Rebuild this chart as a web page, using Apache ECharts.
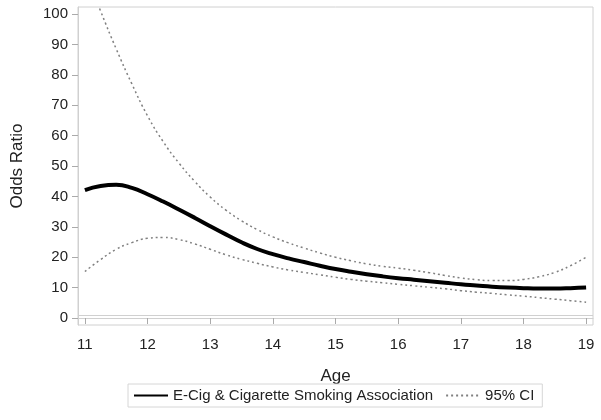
<!DOCTYPE html>
<html>
<head>
<meta charset="utf-8">
<script src="https://cdn.jsdelivr.net/npm/echarts@6/dist/echarts.min.js"></script>
<style>html,body{margin:0;padding:0;background:#fff}#c{width:601px;height:420px}</style>
</head>
<body>
<div id="c"></div>
<script>
var ages = [11,11.25,11.5,11.75,12,12.25,12.5,12.75,13,13.25,13.5,13.75,14,14.25,14.5,14.75,15,15.25,15.5,15.75,16,16.25,16.5,16.75,17,17.25,17.5,17.75,18,18.25,18.5,18.75,19];
var oddsRatio = [42.1,43.4,43.8,42.8,40.7,38.3,35.7,33,30.2,27.5,24.9,22.7,21,19.6,18.4,17.2,16.1,15.2,14.4,13.7,13.1,12.6,12.1,11.6,11.1,10.7,10.3,10.0,9.8,9.7,9.7,9.8,10.0];
var upperCI = [114,101,88.5,77,66.5,58,51,45,39.8,35.5,32,29.1,26.7,24.7,23,21.4,20,18.8,17.8,17,16.4,15.7,14.9,14.0,13.2,12.6,12.3,12.3,12.7,13.6,15,17.2,20];
var lowerCI = [15.3,19.2,22.6,24.8,26.2,26.5,25.8,24.4,22.6,20.8,19.3,18,16.8,15.8,15,14.2,13.4,12.7,12.1,11.6,11.1,10.6,10.1,9.6,9.0,8.5,8.1,7.6,7.2,6.7,6.2,5.7,5.2];
var xTicks = [11,12,13,14,15,16,17,18,19];
var yTicks = [0,10,20,30,40,50,60,70,80,90,100];
var refValue = 1;

function pairs(xs, ys){ return xs.map(function(x,i){ return [x, ys[i]]; }); }

var font = 'Liberation Sans';
var chart = echarts.init(document.getElementById('c'), null, {renderer:'canvas'});
chart.setOption({
  animation: false,
  textStyle: {fontFamily: font},
  grid: {left: 78, right: 8, top: 7, bottom: 95, show: true, borderColor: '#d0d0d0', borderWidth: 1, containLabel: false},
  legend: {
    left: 128, top: 384,
    data: ['E-Cig & Cigarette Smoking Association', '95% CI'],
    itemWidth: 34, itemHeight: 14, itemGap: 12,
    itemStyle: {opacity: 0},
    borderColor: '#d6d6d6', borderWidth: 1, padding: [4, 8, 4, 5],
    textStyle: {fontFamily: font, fontSize: 15, color: '#222'}
  },
  xAxis: {
    type: 'value', min: 10.89, max: 19.11,
    name: 'Age', nameLocation: 'middle', nameGap: 43,
    nameTextStyle: {fontFamily: font, fontSize: 17, color: '#222'},
    axisLine: {show: true, lineStyle: {color: '#d0d0d0'}},
    axisTick: {show: true, length: 6, customValues: xTicks, lineStyle: {color: '#aaa'}},
    axisLabel: {customValues: xTicks, fontFamily: font, fontSize: 15, color: '#222', margin: 12},
    splitLine: {show: false}
  },
  yAxis: {
    type: 'value', min: -2.3, max: 102.3,
    name: 'Odds Ratio', nameLocation: 'middle', nameGap: 52,
    nameTextStyle: {fontFamily: font, fontSize: 17, color: '#222'},
    axisLine: {show: true, lineStyle: {color: '#d0d0d0'}},
    axisTick: {show: true, length: 6, customValues: yTicks, lineStyle: {color: '#aaa'}},
    axisLabel: {customValues: yTicks, fontFamily: font, fontSize: 15, color: '#222', margin: 10},
    splitLine: {show: false}
  },
  series: [
    {
      name: 'E-Cig & Cigarette Smoking Association', type: 'line', smooth: true,
      data: pairs(ages, oddsRatio), showSymbol: false, symbol: 'none', z: 5,
      lineStyle: {color: '#000', width: 4},
      itemStyle: {color: '#000'},
      markLine: {silent: true, symbol: 'none', label: {show: false},
        lineStyle: {color: '#d0d0d0', width: 1, type: 'solid'},
        data: [{yAxis: refValue}]}
    },
    {
      name: '95% CI', type: 'line', smooth: true,
      data: pairs(ages, upperCI), showSymbol: false, symbol: 'none', clip: true,
      lineStyle: {color: '#808080', width: 1.5, type: [2, 3]},
      itemStyle: {color: '#808080'}
    },
    {
      name: '95% CI', type: 'line', smooth: true,
      data: pairs(ages, lowerCI), showSymbol: false, symbol: 'none',
      lineStyle: {color: '#808080', width: 1.5, type: [2, 3]},
      itemStyle: {color: '#808080'}
    }
  ]
});
</script>
</body>
</html>
